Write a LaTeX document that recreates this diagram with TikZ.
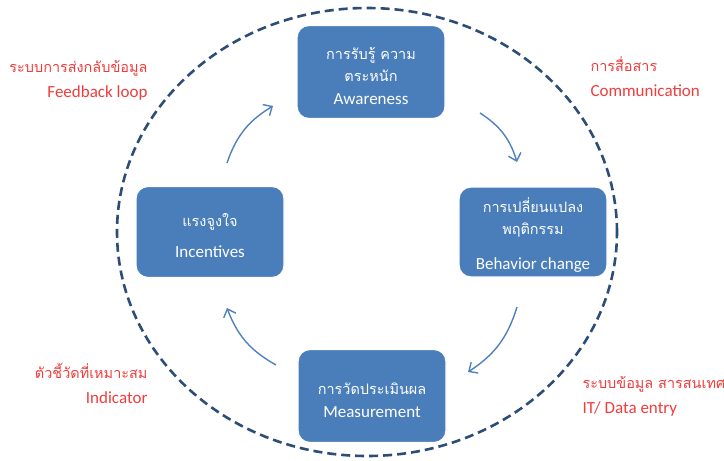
\documentclass[tikz,border=0pt]{standalone}
\usepackage{fontspec}
\setmainfont{Carlito}
\newfontfamily\thaifont[Script=Thai,Scale=0.85]{Loma}
\usetikzlibrary{arrows.meta}
\definecolor{boxblue}{HTML}{4A7EBB}
\definecolor{arrowblue}{HTML}{4F81BD}
\definecolor{ringblue}{HTML}{2C4D75}
\definecolor{labelred}{HTML}{F03C3C}

\begin{document}
\begin{tikzpicture}[x=1pt,y=-1pt,
    stagebox/.style={draw=white, line width=1.2pt, fill=boxblue,
      rounded corners=12pt, minimum width=148pt, minimum height=93pt,
      text=white, align=center, font=\fontsize{17}{22.5}\selectfont},
    cycarrow/.style={arrowblue, line width=1.4pt,
      -{Straight Barb[length=7pt,width=13pt]}},
    redlabel/.style={text=labelred, font=\fontsize{17}{25}\selectfont}]
    \useasboundingbox (0,0) rectangle (724,461);

    % Dashed ring
    \draw[ringblue, line width=2.6pt, dash pattern=on 9pt off 5pt]
      (367,232) ellipse [x radius=250pt, y radius=224pt];

    % Stages
    \node[stagebox] (aware) at (371,72)
      {\rule{0pt}{20pt}{\thaifont การรับรู้ ความ}\\{\thaifont ตระหนัก}\\Awareness};
    \node[stagebox, minimum height=90pt] (behave) at (533,232)
      {\rule{0pt}{20pt}{\thaifont การเปลี่ยนแปลง}\\{\thaifont พฤติกรรม}\\[12pt]Behavior change};
    \node[stagebox] (measure) at (372,396)
      {\rule{0pt}{20pt}{\thaifont การวัดประเมินผล}\\Measurement};
    \node[stagebox, minimum height=91pt] (incent) at (210,232)
      {\rule{0pt}{20pt}{\thaifont แรงจูงใจ}\\[9pt]Incentives};

    % Cycle arrows
    \coordinate (fbA) at (227,163);
    \coordinate (fbB) at (273,106);
    \coordinate (cmA) at (480,113);
    \coordinate (cmB) at (517,162);
    \coordinate (itA) at (517,307);
    \coordinate (itB) at (468,372);
    \coordinate (inA) at (276,365);
    \coordinate (inB) at (227,308);
    \draw[cycarrow] (fbA) to[bend left=20] (fbB);
    \draw[cycarrow] (cmA) to[bend left=20] (cmB);
    \draw[cycarrow] (itA) to[bend left=20] (itB);
    \draw[cycarrow] (inA) to[bend left=20] (inB);

    % Side labels
    \node[redlabel, anchor=east, align=right] (fblabel) at (151,80.5)
      {{\thaifont ระบบการส่งกลับข้อมูล}\\Feedback loop};
    \node[redlabel, anchor=west, align=left] (cmlabel) at (587,77)
      {{\thaifont การสื่อสาร}\\Communication};
    \node[redlabel, anchor=west, align=left] (itlabel) at (579,396.5)
      {{\thaifont ระบบข้อมูล สารสนเทศ}\\IT/ Data entry};
    \node[redlabel, anchor=east, align=right] (inlabel) at (151,383.5)
      {{\thaifont ตัวชี้วัดที่เหมาะสม}\\Indicator};
  \end{tikzpicture}
\end{document}
